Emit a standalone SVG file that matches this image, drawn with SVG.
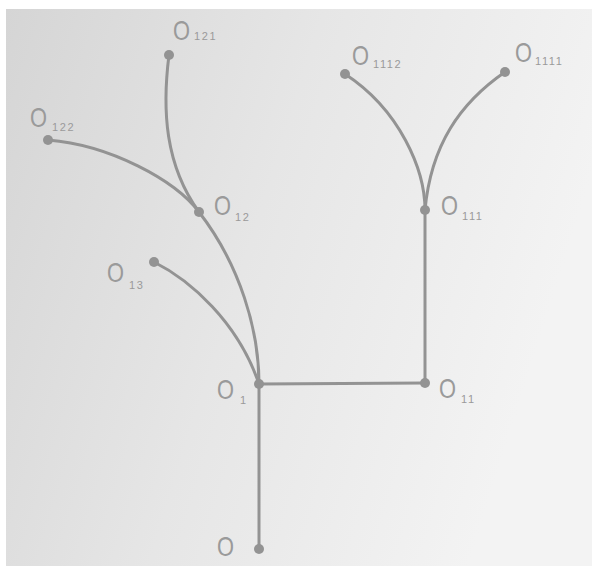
<svg xmlns="http://www.w3.org/2000/svg" width="596" height="569" viewBox="0 0 596 569">
<defs>
<linearGradient id="paper" x1="0" y1="0" x2="1" y2="0.3">
<stop offset="0" stop-color="#d5d5d5"/>
<stop offset="0.5" stop-color="#e6e6e6"/>
<stop offset="1" stop-color="#f3f3f3"/>
</linearGradient>
<style>
.edge{fill:none;stroke:#939393;stroke-width:3;stroke-linecap:round}
.dot{fill:#939393}
.o{font-family:"Liberation Sans",Arial,sans-serif;font-size:28px;fill:#9a9a9a}
.s{font-family:"Liberation Sans",Arial,sans-serif;font-size:11px;fill:#9a9a9a;letter-spacing:1.6px}
</style>
</defs>
<rect width="596" height="569" fill="#ffffff"/>
<rect x="6" y="9" width="586" height="557" fill="url(#paper)"/>
<g id="connectors">
<path class="edge" d="M259,384 L259,549"/>
<path class="edge" d="M259,384 L425,383"/>
<path class="edge" d="M425,383 L425,210"/>
<path class="edge" d="M425,210 C425,170 400,110 345,74"/>
<path class="edge" d="M425,210 C431,145 460,103 505,72"/>
<path class="edge" d="M259,384 C259,330 240,265 199,212"/>
<path class="edge" d="M199,212 C175,180 110,145 48,140"/>
<path class="edge" d="M199,212 C165,165 162,110 169,55"/>
<path class="edge" d="M154,262 C190,280 238,322 259,384"/>
</g>
<g id="node-O">
<circle class="dot" cx="259" cy="549" r="5"/>
<text class="o" x="217" y="556" textLength="17" lengthAdjust="spacingAndGlyphs">O</text>
</g>
<g id="node-O1">
<circle class="dot" cx="259" cy="384" r="5"/>
<text class="o" x="217" y="399" textLength="17" lengthAdjust="spacingAndGlyphs">O</text>
<text class="s" x="240" y="404">1</text>
</g>
<g id="node-O11">
<circle class="dot" cx="425" cy="383" r="5"/>
<text class="o" x="439" y="398" textLength="17" lengthAdjust="spacingAndGlyphs">O</text>
<text class="s" x="461" y="403">11</text>
</g>
<g id="node-O111">
<circle class="dot" cx="425" cy="210" r="5"/>
<text class="o" x="441" y="215" textLength="17" lengthAdjust="spacingAndGlyphs">O</text>
<text class="s" x="462" y="220">111</text>
</g>
<g id="node-O1111">
<circle class="dot" cx="505" cy="72" r="5"/>
<text class="o" x="515" y="62" textLength="17" lengthAdjust="spacingAndGlyphs">O</text>
<text class="s" x="535" y="65">1111</text>
</g>
<g id="node-O1112">
<circle class="dot" cx="345" cy="74" r="5"/>
<text class="o" x="352" y="65" textLength="17" lengthAdjust="spacingAndGlyphs">O</text>
<text class="s" x="373" y="68">1112</text>
</g>
<g id="node-O12">
<circle class="dot" cx="199" cy="212" r="5"/>
<text class="o" x="214" y="215" textLength="17" lengthAdjust="spacingAndGlyphs">O</text>
<text class="s" x="235" y="221">12</text>
</g>
<g id="node-O121">
<circle class="dot" cx="169" cy="55" r="5"/>
<text class="o" x="173" y="40" textLength="17" lengthAdjust="spacingAndGlyphs">O</text>
<text class="s" x="194" y="40">121</text>
</g>
<g id="node-O122">
<circle class="dot" cx="48" cy="140" r="5"/>
<text class="o" x="30" y="127" textLength="17" lengthAdjust="spacingAndGlyphs">O</text>
<text class="s" x="52" y="131">122</text>
</g>
<g id="node-O13">
<circle class="dot" cx="154" cy="262" r="5"/>
<text class="o" x="107" y="282" textLength="17" lengthAdjust="spacingAndGlyphs">O</text>
<text class="s" x="129" y="289">13</text>
</g>
</svg>
